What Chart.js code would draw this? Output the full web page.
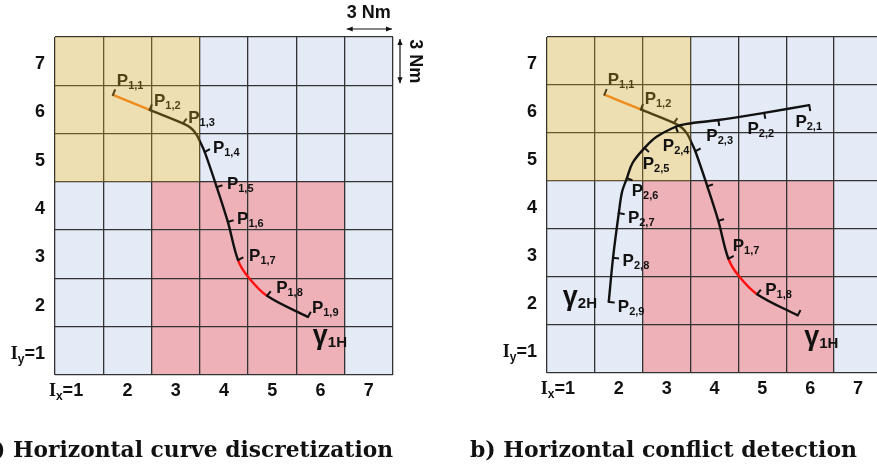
<!DOCTYPE html>
<html>
<head>
<meta charset="utf-8">
<script src="https://cdn.jsdelivr.net/npm/chart.js@4.4.0/dist/chart.umd.min.js"></script>
<style>
  html, body { margin: 0; padding: 0; background: #fff; overflow: hidden; width: 877px; height: 468px; position: relative; }
  canvas { position: absolute; top: 0; }
  #left { left: 0; }
  #right { left: 440px; }
</style>
</head>
<body>
<canvas id="left" width="440" height="468"></canvas>
<canvas id="right" width="450" height="468"></canvas>
<script>
// grid cells (I_x, I_y)
const cellCols = [1, 2, 3, 4, 5, 6, 7]
const cellRows = [1, 2, 3, 4, 5, 6, 7]
// zones as [colFrom, colTo, rowFrom, rowTo]
const yellowZone = [1, 3, 5, 7]
const pinkZone = [3, 6, 1, 4]

// curve gamma_1H (x, y in grid units)
const curve1 = [[1.70, 6.30], [2.46, 5.99], [3.15, 5.71], [3.32, 5.61], [3.43, 5.48], [3.51, 5.32],
  [3.60, 5.12], [3.85, 4.39], [4.08, 3.67], [4.29, 2.88], [4.50, 2.53], [4.89, 2.14], [5.74, 1.70]]
const ticks1 = [[1.70, 6.30], [2.46, 5.99], [3.15, 5.71], [3.60, 5.12], [3.85, 4.39], [4.08, 3.67],
  [4.29, 2.88], [4.89, 2.14], [5.74, 1.70]]
const orangeSpan1 = [0, 1]
const redSpan1 = [9, 11]

// curve gamma_2H
const curve2 = [[5.98, 6.08], [5.04, 5.92], [4.08, 5.77], [3.42, 5.69], [3.19, 5.63], [2.79, 5.42],
  [2.54, 5.19], [2.29, 4.88], [2.17, 4.56], [2.07, 4.28], [2.00, 3.83], [1.88, 2.90], [1.79, 1.98]]
const ticks2 = [[5.98, 6.08], [5.04, 5.92], [4.08, 5.77], [3.19, 5.63], [2.54, 5.19], [2.17, 4.56],
  [2.00, 3.83], [1.88, 2.90], [1.79, 1.98]]

// point labels: [subscript, x, y]
const labelsLeft = [['1,1', 1.78, 6.61], ['1,2', 2.55, 6.19], ['1,3', 3.26, 5.84], ['1,4', 3.77, 5.22],
  ['1,5', 4.06, 4.48], ['1,6', 4.27, 3.75], ['1,7', 4.52, 2.98], ['1,8', 5.08, 2.32], ['1,9', 5.82, 1.91]]
const labelsRight1 = [['1,1', 1.77, 6.63], ['1,2', 2.54, 6.23], ['1,7', 4.38, 3.17], ['1,8', 5.06, 2.25]]
const labelsRight2 = [['2,1', 5.69, 5.75], ['2,2', 4.69, 5.60], ['2,3', 3.83, 5.46], ['2,4', 2.92, 5.25],
  ['2,5', 2.50, 4.88], ['2,6', 2.27, 4.31], ['2,7', 2.19, 3.75], ['2,8', 2.08, 2.85], ['2,9', 1.98, 1.90]]
const gammaLeft = [['1H', 5.84, 1.14]]
const gammaRight1 = [['1H', 5.875, 1.08]]
const gammaRight2 = [['2H', 0.83, 1.92]]

const SANS = '"Liberation Sans", Arial, sans-serif'
const SERIF = '"Liberation Serif", "Times New Roman", serif'
const BLUE = '#E4EBF7'
const PINK = '#EDB1B7'
const YELLOW_COVER = 'rgba(206,162,29,0.34)'

// one-sided tick mark, drawn from the centre to the right, rotated per point
const tickMark = document.createElement('canvas')
tickMark.width = 14
tickMark.height = 14
{
  const t = tickMark.getContext('2d')
  t.strokeStyle = '#111'
  t.lineWidth = 2
  t.beginPath(); t.moveTo(6, 7); t.lineTo(13, 7); t.stroke()
}

function pts(list) { return list.map(([x, y]) => ({ x, y })) }
function inSpan(i, span) { return span && i >= span[0] && i < span[1] }
// angle (deg, canvas) of the normal on the left of the direction of travel
function tickAngle(list, i) {
  const a = list[Math.max(i - 1, 0)], b = list[Math.min(i + 1, list.length - 1)]
  const dx = b[0] - a[0], dy = b[1] - a[1]
  return Math.atan2(-dx, -dy) * 180 / Math.PI
}

function curveSets(curve, ticks, orangeSpan, redSpan, order) {
  return [
    {
      data: pts(curve), showLine: true, pointRadius: 0, borderColor: '#111', borderWidth: 2.4,
      tension: 0.35, order: order + 1,
      segment: {
        borderColor: c => inSpan(c.p0DataIndex, orangeSpan) ? '#FF801E'
          : inSpan(c.p0DataIndex, redSpan) ? '#FF1010' : undefined
      }
    },
    {
      data: pts(ticks), showLine: false, pointStyle: tickMark, pointRadius: 7, pointHoverRadius: 7,
      pointRotation: c => tickAngle(ticks, c.dataIndex), order: order
    }
  ]
}

function rich(ctx, parts, x, y, align) {
  let w = 0
  parts.forEach(p => { ctx.font = p[1]; w += ctx.measureText(p[0]).width })
  let cx = align === 'right' ? x - w : align === 'center' ? x - w / 2 : x
  ctx.textAlign = 'left'
  ctx.textBaseline = 'alphabetic'
  parts.forEach(p => {
    ctx.font = p[1]
    ctx.fillText(p[0], cx, y + (p[2] || 0))
    cx += ctx.measureText(p[0]).width
  })
}

function drawLabels(chart, labels, gammas) {
  const { ctx, scales: { x, y } } = chart
  ctx.save()
  ctx.fillStyle = '#111'
  labels.forEach(([s, lx, ly]) => {
    rich(ctx, [['P', 'bold 17px ' + SANS], [s, 'bold 11px ' + SANS, 3]],
      x.getPixelForValue(lx), y.getPixelForValue(ly) + 6, 'left')
  })
  gammas.forEach(([s, lx, ly]) => {
    rich(ctx, [['\u03B3', 'bold 27px ' + SANS], [s, 'bold 15px ' + SANS, 3]],
      x.getPixelForValue(lx), y.getPixelForValue(ly), 'left')
  })
  ctx.restore()
}

function zoneRect(chart, z) {
  const { scales: { x, y } } = chart
  const x0 = x.getPixelForValue(z[0] - 0.5), x1 = x.getPixelForValue(z[1] + 0.5)
  const y0 = y.getPixelForValue(z[3] + 0.5), y1 = y.getPixelForValue(z[2] - 0.5)
  return [x0, y0, x1 - x0, y1 - y0]
}
function inZone(c, r, z) { return c >= z[0] && c <= z[1] && r >= z[2] && r <= z[3] }

function arrow(ctx, x0, y0, x1, y1) {
  const a = Math.atan2(y1 - y0, x1 - x0), h = 6, w = 2.6
  ctx.beginPath(); ctx.moveTo(x0, y0); ctx.lineTo(x1, y1); ctx.stroke()
  ;[[x1, y1, a], [x0, y0, a + Math.PI]].forEach(([px, py, ang]) => {
    ctx.beginPath()
    ctx.moveTo(px, py)
    ctx.lineTo(px - h * Math.cos(ang) - w * Math.sin(ang), py - h * Math.sin(ang) + w * Math.cos(ang))
    ctx.lineTo(px - h * Math.cos(ang) + w * Math.sin(ang), py - h * Math.sin(ang) - w * Math.cos(ang))
    ctx.closePath(); ctx.fill()
  })
}

function panelPlugin(cfg) {
  return {
    id: 'panel_' + cfg.name,
    beforeDraw(chart) {
      const { ctx, scales: { x, y } } = chart
      ctx.save()
      cellCols.forEach(c => cellRows.forEach(r => {
        ctx.fillStyle = inZone(c, r, yellowZone) ? '#fff' : inZone(c, r, pinkZone) ? PINK : BLUE
        const x0 = x.getPixelForValue(c - 0.5), x1 = x.getPixelForValue(c + 0.5)
        const y0 = y.getPixelForValue(r + 0.5), y1 = y.getPixelForValue(r - 0.5)
        ctx.fillRect(x0, y0, x1 - x0, y1 - y0)
      }))
      ctx.restore()
    },
    afterDatasetDraw(chart, args) {
      if (args.index !== cfg.coverAfter) return
      drawLabels(chart, cfg.labelsUnder, cfg.gammasUnder)
      const { ctx } = chart
      ctx.save()
      ctx.fillStyle = YELLOW_COVER
      ctx.fillRect(...zoneRect(chart, yellowZone))
      ctx.restore()
    },
    afterDraw(chart) {
      drawLabels(chart, cfg.labelsOver, cfg.gammasOver)
      const { ctx, chartArea, scales: { x, y } } = chart
      ctx.save()
      ctx.fillStyle = '#111'
      const digit = 'bold 18px ' + SANS
      cellRows.forEach(r => {
        const py = y.getPixelForValue(r) + 8
        const parts = r === 1
          ? [['I', 'bold 18px ' + SERIF], ['y', 'bold 12px ' + SANS, 4], ['=1', digit]]
          : [[String(r), digit]]
        rich(ctx, parts, chartArea.left - 10, py, 'right')
      })
      cellCols.forEach(c => {
        const px = x.getPixelForValue(c)
        if (c === 1) {
          rich(ctx, [['I', 'bold 18px ' + SERIF], ['x', 'bold 12px ' + SANS, 4], ['=1', digit]],
            px + 4, chartArea.bottom + 21, 'right')
        } else {
          rich(ctx, [[String(c), digit]], px, chartArea.bottom + 21, 'center')
        }
      })
      // caption
      ctx.font = 'bold 22px "DejaVu Serif", serif'
      ctx.textBaseline = 'alphabetic'
      ctx.textAlign = 'left'
      const main = ctx.measureText(cfg.title[1]).width
      const pre = ctx.measureText(cfg.title[0]).width
      const sx = cfg.titleWidth / (pre * (cfg.titleFromPrefix ? 1 : 0) + main)
      ctx.translate(cfg.titleX, 457)
      ctx.scale(sx, 1)
      ctx.fillText(cfg.title[0] + cfg.title[1], cfg.titleFromPrefix ? 0 : -pre, 0)
      ctx.restore()
      if (cfg.scaleBar) {
        ctx.save()
        ctx.fillStyle = '#111'
        ctx.strokeStyle = '#111'
        ctx.lineWidth = 1.2
        const xa = x.getPixelForValue(6.5), xb = x.getPixelForValue(7.5)
        const ya = y.getPixelForValue(7.5), yb = y.getPixelForValue(6.5)
        ctx.font = 'bold 18px ' + SANS
        ctx.textAlign = 'center'
        ctx.textBaseline = 'middle'
        ctx.fillText('3 Nm', (xa + xb) / 2, 13)
        arrow(ctx, xa + 2, 29, xb - 1, 29)
        arrow(ctx, xb + 7, ya + 2, xb + 7, yb - 2)
        ctx.translate(xb + 22, (ya + yb) / 2)
        ctx.rotate(Math.PI / 2)
        ctx.fillText('3 Nm', 0, 0)
        ctx.restore()
      }
    }
  }
}

function gridLine(c) { return Math.abs(c.tick.value % 1) === 0.5 ? '#333' : 'rgba(0,0,0,0)' }

function makePanel(id, padding, datasets, cfg) {
  return new Chart(document.getElementById(id), {
    type: 'scatter',
    data: { datasets },
    options: {
      responsive: false,
      animation: false,
      layout: { padding },
      plugins: { legend: { display: false }, tooltip: { enabled: false } },
      scales: {
        x: {
          type: 'linear', min: 0.5, max: 7.5,
          ticks: { display: false, stepSize: 0.5 },
          grid: { drawTicks: false, color: gridLine, lineWidth: 1.3 },
          border: { display: false }
        },
        y: {
          type: 'linear', min: 0.5, max: 7.5,
          ticks: { display: false, stepSize: 0.5 },
          grid: { drawTicks: false, color: gridLine, lineWidth: 1.3 },
          border: { display: false }
        }
      }
    },
    plugins: [panelPlugin(cfg)]
  })
}

makePanel('left', { left: 55, top: 37, right: 47, bottom: 93 },
  curveSets(curve1, ticks1, orangeSpan1, redSpan1, 3),
  {
    name: 'a', coverAfter: 1,
    labelsUnder: labelsLeft, gammasUnder: gammaLeft, labelsOver: [], gammasOver: [],
    title: ['a) ', 'Horizontal curve discretization'], titleX: 13, titleWidth: 380, titleFromPrefix: false,
    scaleBar: true
  })

makePanel('right', { left: 107, top: 37, right: 7, bottom: 95 },
  curveSets(curve1, ticks1, orangeSpan1, redSpan1, 3).concat(curveSets(curve2, ticks2, null, null, 1)),
  {
    name: 'b', coverAfter: 1,
    labelsUnder: labelsRight1, gammasUnder: gammaRight1, labelsOver: labelsRight2, gammasOver: gammaRight2,
    title: ['b) ', 'Horizontal conflict detection'], titleX: 30, titleWidth: 387, titleFromPrefix: true,
    scaleBar: false
  })
</script>
</body>
</html>
